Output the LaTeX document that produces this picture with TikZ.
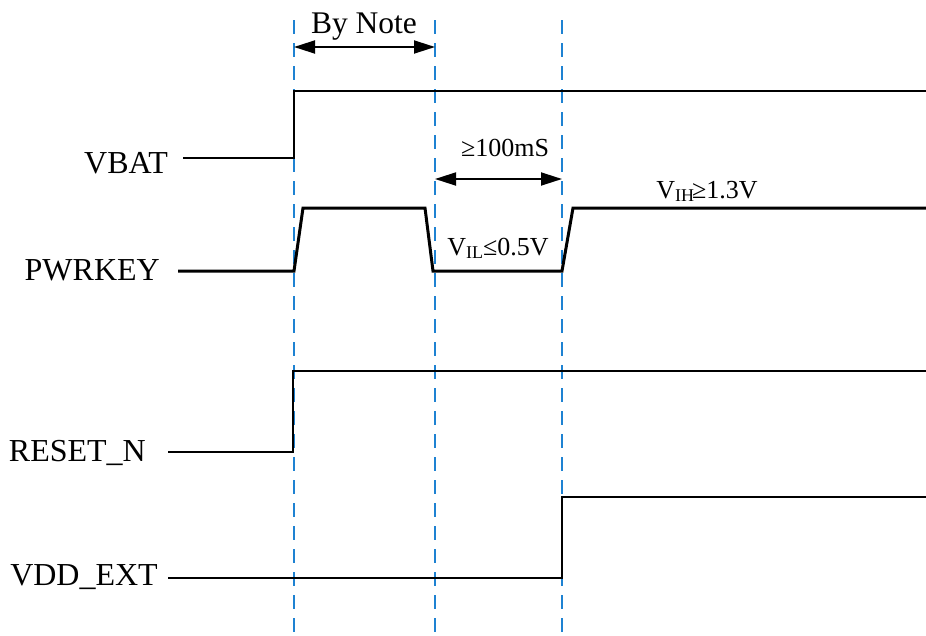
\documentclass[tikz,border=0pt]{standalone}
\usepackage{fontspec}
\setmainfont{Liberation Serif}
\usetikzlibrary{arrows.meta}
\definecolor{guideblue}{RGB}{30,130,210}
\tikzset{
  wave/.style={draw=black, line width=2pt, line join=miter},
  keywave/.style={draw=black, line width=3pt, line join=miter},
  guide/.style={draw=guideblue, line width=1.8pt, dash pattern=on 14pt off 9pt},
  siglabel/.style={font=\fontsize{32}{32}\selectfont, anchor=base east, inner sep=0pt},
  notelabel/.style={font=\fontsize{26}{26}\selectfont, anchor=base, inner sep=0pt},
  bylabel/.style={font=\fontsize{31.5}{31.5}\selectfont, anchor=base, inner sep=0pt},
  dimarrow/.style={draw=black, line width=1.8pt, {Triangle[length=21pt,width=13pt]}-{Triangle[length=21pt,width=13pt]}}
}
\newcommand{\mysub}[1]{\raisebox{-0.3ex}{\fontsize{18}{18}\selectfont #1}}
\begin{document}
\begin{tikzpicture}[x=1pt, y=-1pt]
\useasboundingbox (0,0) rectangle (926,635);

% guide lines
\coordinate (g1t) at (294,20);  \coordinate (g1b) at (294,635);
\coordinate (g2t) at (435,20);  \coordinate (g2b) at (435,635);
\coordinate (g3t) at (562,20);  \coordinate (g3b) at (562,635);
\draw[guide] (g1t) -- (g1b);
\draw[guide] (g2t) -- (g2b);
\draw[guide] (g3t) -- (g3b);

% signal names
\node[siglabel] (vbat) at (168,173) {VBAT};
\node[siglabel] (pwrkey) at (160,280) {PWRKEY};
\node[siglabel] (resetn) at (146,461) {RESET\_N};
\node[siglabel] (vddext) at (158,585) {VDD\_EXT};

% VBAT
\coordinate (vb0) at (183,158);
\coordinate (vb1) at (294,158);
\coordinate (vb2) at (294,91);
\coordinate (vb3) at (926,91);
\draw[wave] (vb0) -- (vb1) -- (vb2) -- (vb3);

% PWRKEY
\coordinate (pk0) at (178,271);
\coordinate (pk1) at (294,271);
\coordinate (pk2) at (303,208);
\coordinate (pk3) at (425,208);
\coordinate (pk4) at (433,271);
\coordinate (pk5) at (562,271);
\coordinate (pk6) at (573,208);
\coordinate (pk7) at (926,208);
\draw[keywave] (pk0) -- (pk1) -- (pk2) -- (pk3) -- (pk4) -- (pk5) -- (pk6) -- (pk7);

% RESET_N
\coordinate (rn0) at (168,452);
\coordinate (rn1) at (293,452);
\coordinate (rn2) at (293,371);
\coordinate (rn3) at (926,371);
\draw[wave] (rn0) -- (rn1) -- (rn2) -- (rn3);

% VDD_EXT
\coordinate (vd0) at (168,578);
\coordinate (vd1) at (562,578);
\coordinate (vd2) at (562,497);
\coordinate (vd3) at (926,497);
\draw[wave] (vd0) -- (vd1) -- (vd2) -- (vd3);

% By Note
\coordinate (bnL) at (294,47);
\coordinate (bnR) at (435,47);
\draw[dimarrow] (bnL) -- (bnR);
\node[bylabel] (bynote) at (364,33) {By Note};

% >=100mS
\coordinate (tmL) at (435,179);
\coordinate (tmR) at (562,179);
\draw[dimarrow] (tmL) -- (tmR);
\node[notelabel] (t100) at (505,156) {≥100mS};

% levels
\node[notelabel] (vil) at (498,255) {V\mysub{IL}≤0.5V};
\node[notelabel] (vih) at (707,198) {V\mysub{IH}\kern-2pt≥1.3V};
\end{tikzpicture}
\end{document}
